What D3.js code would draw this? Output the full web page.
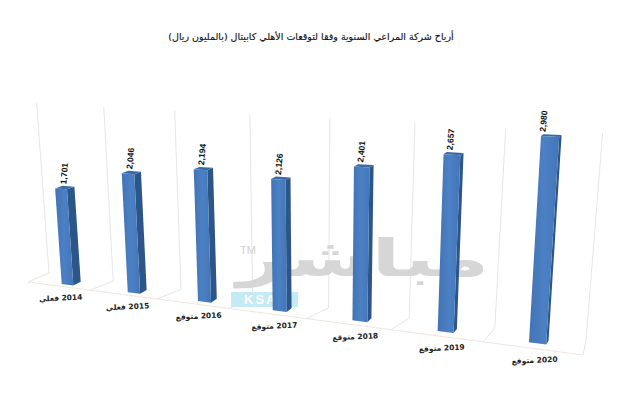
<!DOCTYPE html>
<html><head><meta charset="utf-8">
<script src="https://cdn.jsdelivr.net/npm/d3@7"></script>
<style>html,body{margin:0;padding:0;background:#fff}svg{display:block}</style>
</head><body><svg id="c" width="640" height="400"></svg>
<script>
const years = ["2014","2015","2016","2017","2018","2019","2020"];
const statuses = ["فعلي","فعلي","متوقع","متوقع","متوقع","متوقع","متوقع"];
const values = [1701,2046,2194,2126,2401,2657,2980];
const valueLabels = ["1,701","2,046","2,194","2,126","2,401","2,657","2,980"];
const title = "أرباح شركة المراعي السنوية وفقا لتوقعات الأهلي كابيتال (بالمليون ريال)";

function homography(src, dst){
  const A=[];
  src.forEach((s,i)=>{const [x,y]=s,[X,Y]=dst[i];
    A.push([x,y,1,0,0,0,-x*X,-y*X,X]);
    A.push([0,0,0,x,y,1,-x*Y,-y*Y,Y]);});
  for(let c=0;c<8;c++){
    let p=c;for(let r=c+1;r<8;r++)if(Math.abs(A[r][c])>Math.abs(A[p][c]))p=r;
    [A[c],A[p]]=[A[p],A[c]];
    for(let r=0;r<8;r++)if(r!==c){const f=A[r][c]/A[c][c];for(let k=c;k<9;k++)A[r][k]-=f*A[c][k];}
  }
  const h=A.map((r,i)=>r[8]/r[i]);
  return (x,y)=>{const w=h[6]*x+h[7]*y+1;return [(h[0]*x+h[1]*y+h[2])/w,(h[3]*x+h[4]*y+h[5])/w];};
}
const n = years.length;
const xBand = d3.scaleBand().domain(years).range([0,6.18]).paddingInner(0.82);
const yVal = d3.scaleLinear().domain([0,3000]).range([0,1]);
const front = homography([[0,0],[6,0],[0,1],[6,1]],[[61.7,284],[529,342.3],[49.9,112],[541.1,134.6]]);
const wall = homography([[0,0],[1,0],[0,1],[1,1]],[[49,273],[586,340],[36.7,103],[602.7,133]]);
const floorP = homography([[0,0],[1,0],[0,1],[1,1]],[[49,273],[586,340],[28,282],[583,355]]);
const edge = d3.scaleLinear().domain([0,n]).range([0,1]);
const depthX = d3.scaleLinear().domain([0,6]).range([7.4,2.4]);
const depthY = d3.scaleLinear().domain([0,1]).range([-3.8,-1.9]);
const labelU = d3.scaleLinear().domain([0,6]).range([-0.03,0.07]);
const valueDx = d3.scaleLinear().domain([0,5,6]).range([11,9,4.5]);

const svg = d3.select("#c");
const defs = svg.append("defs");
const g = defs.append("linearGradient").attr("id","fr").attr("x1",0).attr("x2",1).attr("y1",0).attr("y2",0);
g.append("stop").attr("offset","0").attr("stop-color","#4274b4");
g.append("stop").attr("offset","0.5").attr("stop-color","#4c80c4");
g.append("stop").attr("offset","1").attr("stop-color","#4376b8");
svg.append("rect").attr("width",640).attr("height",400).attr("fill","#fff");

const line = d3.line();
const edges = d3.range(n+1).map(edge);
svg.append("g").selectAll("path").data(edges).join("path")
  .attr("d",e=>line([wall(e,1),wall(e,0),floorP(e,1)]))
  .attr("fill","none").attr("stroke","#e6e6e6").attr("stroke-width",1);
svg.append("path").attr("d",line(edges.map(e=>floorP(e,1))))
  .attr("fill","none").attr("stroke","#efe6de").attr("stroke-width",1);

// watermark
const wm = svg.append("g");
wm.append("text").attr("transform","translate(363,276) scale(2.1,1.3)")
  .attr("text-anchor","middle").attr("direction","rtl")
  .attr("font-family","DejaVu Sans").attr("font-weight","bold").attr("font-size",40)
  .attr("fill","#d6d6d6").text("مباشر");
wm.append("text").attr("x",240).attr("y",254).attr("font-family","Liberation Sans")
  .attr("font-size",11).attr("fill","#cfcfcf").text("TM");
wm.append("rect").attr("x",231).attr("y",292).attr("width",67).attr("height",15).attr("fill","#c4eaf3");
wm.append("text").attr("x",244).attr("y",304).attr("font-family","Liberation Sans").attr("font-weight","bold")
  .attr("font-size",13).attr("letter-spacing",2).attr("fill","#fff").text("KSA");

// bars
const rows = years.map((y,i)=>({y,i,v:values[i],s:statuses[i],l:valueLabels[i]}));
const bars = svg.append("g").selectAll("g").data(rows).join("g");
const corners = d=>{
  const u0=xBand(d.y),u1=u0+xBand.bandwidth(),t=yVal(d.v);
  const bl=front(u0,0),br=front(u1,0),tl=front(u0,t),tr=front(u1,t);
  const dx=depthX(d.i),off=(p,v)=>[p[0]+dx,p[1]+depthY(v)];
  return {bl,br,tl,tr,br2:off(br,0),tr2:off(tr,t),tl2:off(tl,t)};
};
bars.append("path").attr("d",d=>{const c=corners(d);return line([c.br,c.tr,c.tr2,c.br2])+"Z";}).attr("fill","#2c5688");
bars.append("path").attr("d",d=>{const c=corners(d);return line([c.tl,c.tr,c.tr2,c.tl2])+"Z";}).attr("fill","#3a6aa6");
bars.append("path").attr("d",d=>{const c=corners(d);return line([c.bl,c.br,c.tr,c.tl])+"Z";}).attr("fill","url(#fr)");

// value labels
bars.append("text").attr("transform",d=>{
    const c=corners(d);
    return `translate(${c.tl[0]+valueDx(d.i)},${c.tl[1]-4}) rotate(-85)`;})
  .attr("font-family","Liberation Sans").attr("font-weight","bold").attr("font-size",8.5)
  .attr("fill","#111").text(d=>d.l);

// category labels
bars.append("text").attr("transform",d=>{
    const p=front(xBand(d.y)+labelU(d.i),yVal(-270));
    return `translate(${p[0]},${p[1]}) rotate(-2.5)`;})
  .attr("text-anchor","middle").attr("direction","rtl").attr("dominant-baseline","middle")
  .attr("font-family","DejaVu Sans").attr("font-weight","bold").attr("font-size",7.5)
  .attr("letter-spacing",0.4).attr("fill","#222")
  .text(d=>`${d.y} ${d.s}`);

// title
svg.append("text").attr("x",311).attr("y",40).attr("text-anchor","middle").attr("direction","rtl")
  .attr("font-family","DejaVu Sans").attr("font-size",9.5).attr("stroke","#222").attr("stroke-width",0.15).attr("fill","#111").text(title);
</script></body></html>
